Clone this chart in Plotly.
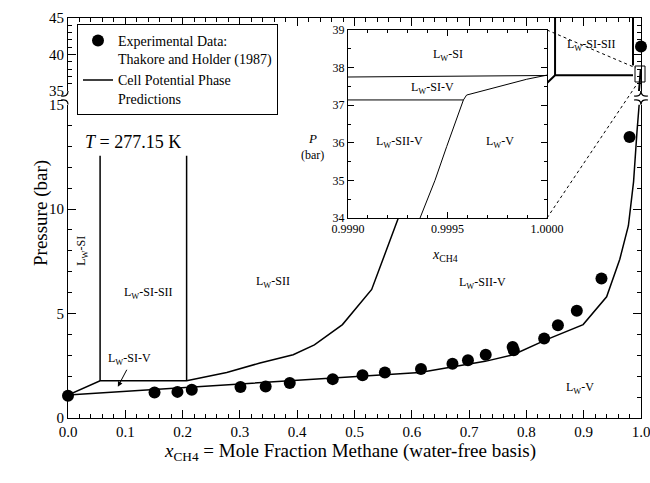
import plotly.graph_objects as go

SERIF = "Liberation Serif, Times New Roman, serif"
INK = "black"

# Thakore and Holder (1987) experimental points (x_CH4, P in bar)
exp_x = [0.0, 0.151, 0.191, 0.216, 0.301, 0.345, 0.387, 0.462, 0.514, 0.553,
         0.616, 0.671, 0.698, 0.729, 0.776, 0.778, 0.831, 0.855, 0.888, 0.931, 0.980]
exp_p = [1.06, 1.22, 1.25, 1.35, 1.48, 1.51, 1.67, 1.86, 2.05, 2.18,
         2.34, 2.60, 2.76, 3.03, 3.40, 3.24, 3.80, 4.44, 5.13, 6.68, 13.45]
exp_hi_x = [1.0]
exp_hi_p = [41.1]

# cell potential predictions, lower part of the broken axis (0-15 bar)
si_x = [0.0, 0.056, 0.207, 0.277, 0.335, 0.393, 0.43, 0.479, 0.53, 0.577]
si_p = [1.10, 1.78, 1.78, 2.18, 2.63, 3.03, 3.5, 4.47, 6.15, 9.6]
lwv_x = [0.0, 0.44, 0.614, 0.728, 0.777, 0.835, 0.899, 0.94, 0.963, 0.978, 0.987, 0.993, 0.9968]
lwv_p = [1.10, 1.86, 2.18, 2.71, 3.03, 3.75, 4.47, 5.8, 7.6, 9.2, 11.3, 13.7, 15.0]
vert_a_x = [0.056, 0.056]
vert_b_x = [0.207, 0.207]
vert_p = [1.78, 12.55]

# upper part of the broken axis (35-45 bar)
up_h_x = [0.836, 0.85, 0.986]
up_h_p = [36.1, 37.15, 37.15]
up_v1_x = [0.85, 0.85]
up_v1_p = [37.15, 45.0]
up_v2_x = [0.986, 0.986]
up_v2_p = [38.5, 45.0]
up_curve_x = [0.9965, 0.9995]
up_curve_p = [35.0, 37.9]

# inset (0.999-1.000, 34-39 bar)
ins_a_x = [0.9990, 1.0000]
ins_a_p = [37.75, 37.79]
ins_b_x = [0.9990, 0.99958, 0.999596, 0.999898, 1.0]
ins_b_p = [37.14, 37.14, 37.27, 37.69, 37.80]
ins_c_x = [0.999362, 0.999437, 0.999496, 0.999546, 0.99958]
ins_c_p = [34.0, 35.0, 35.9, 36.65, 37.14]

# pixel -> paper helpers (plot area 68..641 x 18..418)
def px(v):
    return (v - 68) / 573.0


def py(v):
    return (418 - v) / 400.0


fig = go.Figure()

marker = dict(color=INK, size=12)
fig.add_trace(go.Scatter(x=exp_x, y=exp_p, mode="markers", marker=marker,
                         name="Experimental Data:<br>Thakore and Holder (1987)",
                         xaxis="x", yaxis="y", cliponaxis=False))
fig.add_trace(go.Scatter(x=exp_hi_x, y=exp_hi_p, mode="markers", marker=marker,
                         showlegend=False, xaxis="x2", yaxis="y2", cliponaxis=False))

line = dict(color=INK, width=1.5)
thin = dict(color=INK, width=1)

for xs, ps, nm, show in [
    (si_x, si_p, "Cell Potential Phase<br>Predictions", True),
    (lwv_x, lwv_p, "", False),
    (vert_a_x, vert_p, "", False),
    (vert_b_x, vert_p, "", False),
]:
    fig.add_trace(go.Scatter(x=xs, y=ps, mode="lines", line=line, name=nm,
                             showlegend=show, xaxis="x", yaxis="y", cliponaxis=False))

for xs, ps in [(up_h_x, up_h_p), (up_v1_x, up_v1_p), (up_v2_x, up_v2_p), (up_curve_x, up_curve_p)]:
    fig.add_trace(go.Scatter(x=xs, y=ps, mode="lines", line=dict(color=INK, width=2),
                             showlegend=False, xaxis="x2", yaxis="y2"))

for xs, ps in [(ins_a_x, ins_a_p), (ins_b_x, ins_b_p), (ins_c_x, ins_c_p)]:
    fig.add_trace(go.Scatter(x=xs, y=ps, mode="lines", line=thin,
                             showlegend=False, xaxis="x3", yaxis="y3"))

axis_common = dict(showline=True, linecolor=INK, linewidth=1.2, ticks="inside",
                   tickcolor=INK, showgrid=False, zeroline=False, automargin=False,
                   ticklabeloverflow="allow",
                   tickfont=dict(family=SERIF, size=15, color=INK))

fig.update_layout(
    xaxis=dict(axis_common, range=[0, 1], domain=[0, 1], anchor="y", dtick=0.1,
               tickformat=".1f", ticklen=8,
               minor=dict(dtick=0.02, ticklen=4, ticks="inside", tickcolor=INK)),
    yaxis=dict(axis_common, range=[0, 15], domain=[0, py(104.5)], anchor="x",
               tickvals=[0, 5, 10, 15], ticklen=8, mirror="ticks",
               minor=dict(dtick=1, ticklen=4, ticks="inside", tickcolor=INK)),
    xaxis2=dict(axis_common, range=[0, 1], domain=[0, 1], anchor="y2", side="top",
                dtick=0.1, ticklen=8, showticklabels=False,
                minor=dict(dtick=0.02, ticklen=4, ticks="inside", tickcolor=INK)),
    yaxis2=dict(axis_common, range=[35, 45], domain=[py(91), 1], anchor="x2",
                tickvals=[35, 40, 45], ticklen=8, mirror="ticks",
                minor=dict(dtick=1, ticklen=4, ticks="inside", tickcolor=INK)),
    xaxis3=dict(axis_common, range=[0.999, 1.0], domain=[px(348), px(547)], anchor="y3",
                tickvals=[0.999, 0.9995, 1.0], tickformat=".4f", ticklen=6, mirror="ticks",
                tickfont=dict(family=SERIF, size=12, color=INK), linewidth=1,
                minor=dict(dtick=0.0001, ticklen=3, ticks="inside", tickcolor=INK)),
    yaxis3=dict(axis_common, range=[34, 39], domain=[py(218), py(30)], anchor="x3",
                dtick=1, ticklen=6, mirror="ticks", linewidth=1,
                tickfont=dict(family=SERIF, size=12, color=INK),
                minor=dict(dtick=0.5, ticklen=3, ticks="inside", tickcolor=INK)),
    width=650, height=483,
    margin=dict(l=68, r=9, t=18, b=65),
    paper_bgcolor="white", plot_bgcolor="white",
    font=dict(family=SERIF, color=INK),
    legend=dict(x=px(77), y=py(24), xanchor="left", yanchor="top",
                bgcolor="white", bordercolor=INK, borderwidth=1,
                font=dict(family=SERIF, size=14, color=INK), valign="top",
                tracegroupgap=4),
)

ann = []


def label(text, x, y, xref, yref, size=12, angle=0):
    ann.append(dict(text=text, x=x, y=y, xref=xref, yref=yref, showarrow=False,
                    font=dict(family=SERIF, size=size, color=INK), textangle=angle))


lw = "L<sub>W</sub>"
label(lw + "-SI", 0.0244, 8.0, "x", "y", angle=-90)
label(lw + "-SI-SII", 0.14, 6.0, "x", "y")
label(lw + "-SII", 0.358, 6.5, "x", "y")
label(lw + "-SII-V", 0.724, 6.45, "x", "y")
label(lw + "-V", 0.894, 1.45, "x", "y")
label(lw + "-SI-V", 0.108, 2.8, "x", "y")
label("<i>T</i> = 277.15 K", 0.113, 13.2, "x", "y", size=18)
label(lw + "-SI-SII", 0.914, 41.3, "x2", "y2")
label(lw + "-SI", 0.999503, 38.33, "x3", "y3")
label(lw + "-SI-V", 0.999427, 37.47, "x3", "y3")
label(lw + "-SII-V", 0.999261, 36.02, "x3", "y3")
label(lw + "-V", 0.999764, 36.02, "x3", "y3")
label("<i>P</i>", px(312), py(129), "paper", "paper", size=13)
label("(bar)", px(312), py(146), "paper", "paper", size=12)
label("<i>x</i><sub>CH4</sub>", px(445), py(255), "paper", "paper", size=14)
label("<i>x</i><sub>CH4</sub> = Mole Fraction Methane (water-free basis)",
      px(350), py(466), "paper", "paper", size=19)
label("Pressure (bar)", px(28), py(213), "paper", "paper", size=19, angle=-90)

# arrow pointing at the narrow Lw-SI-V region
ann.append(dict(x=0.087, y=1.5, ax=0.104, ay=2.38, xref="x", yref="y", axref="x", ayref="y",
                text="", showarrow=True, arrowhead=2, arrowsize=1, arrowwidth=1,
                arrowcolor=INK))
fig.update_layout(annotations=ann)

# zoom box, dotted leaders and axis-break marks
def P(xp, yp):
    return f"{px(xp):.5f},{py(yp):.5f}"


shapes = [
    dict(type="rect", xref="paper", yref="paper", x0=px(635), x1=px(645), y0=py(82), y1=py(66),
         line=dict(color=INK, width=1)),
    dict(type="line", xref="paper", yref="paper", x0=px(547), y0=py(30), x1=px(636), y1=py(68),
         line=dict(color=INK, width=1, dash="dot")),
    dict(type="line", xref="paper", yref="paper", x0=px(547), y0=py(218), x1=px(637), y1=py(84),
         line=dict(color=INK, width=1, dash="dot")),
]
for path in [
    f"M {P(68, 91)} Q {P(68, 97)} {P(61, 96)}",
    f"M {P(68, 104.5)} Q {P(68, 99)} {P(61, 100)}",
    f"M {P(641, 91)} Q {P(641, 97)} {P(648, 96)}",
    f"M {P(641, 91)} Q {P(641, 97)} {P(634, 96)}",
    f"M {P(641, 104.5)} Q {P(641, 99)} {P(648, 100)}",
    f"M {P(641, 104.5)} Q {P(641, 99)} {P(634, 100)}",
]:
    shapes.append(dict(type="path", xref="paper", yref="paper", path=path,
                       line=dict(color=INK, width=1.2)))
fig.update_layout(shapes=shapes)

# drop the default page margin so the 650x483 figure fills the window exactly
fig.write_html("out.html", config={"displayModeBar": False},
               post_script="document.body.style.margin = '0';")
